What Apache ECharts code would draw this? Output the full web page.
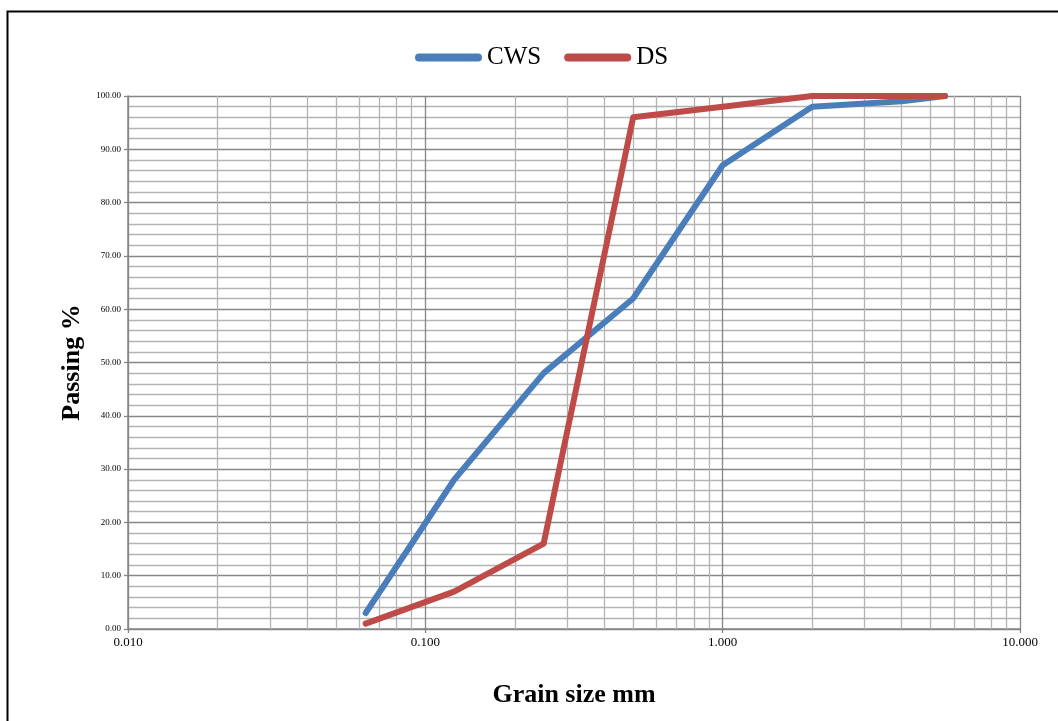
<!DOCTYPE html>
<html>
<head>
<meta charset="utf-8">
<script src="https://cdn.jsdelivr.net/npm/echarts@6/dist/echarts.min.js"></script>
<style>html,body{margin:0;padding:0;background:#fff;}#c{width:1058px;height:721px;}</style>
</head>
<body>
<div id="c"></div>
<script>
const sieveSizes = [0.063, 0.125, 0.25, 0.5, 1, 2, 4, 5.6];
const cwsPassing = [3, 28, 48, 62, 87, 98, 99, 100];
const dsPassing = [1, 7, 16, 96, 98, 100, 100, 100];
const seriesNames = ['CWS', 'DS'];
const xMinorGrid = [0.02,0.03,0.04,0.05,0.06,0.07,0.08,0.09,0.2,0.3,0.4,0.5,0.6,0.7,0.8,0.9,2,3,4,5,6,7,8,9];

const font = '"Liberation Serif", "Times New Roman", serif';
const chart = echarts.init(document.getElementById('c'));
const pairs = ys => sieveSizes.map((x, i) => [x, ys[i]]);
chart.setOption({
  animation: false,
  backgroundColor: '#fff',
  graphic: [{
    type: 'rect', left: 5, top: 9, z: 100,
    shape: {width: 1200, height: 900},
    style: {fill: 'none', stroke: '#000', lineWidth: 2}
  }],
  legend: {
    left: 410, top: 40,
    itemWidth: 67, itemHeight: 8, itemGap: 23,
    icon: 'path://M4 0H63A4 4 0 0 1 63 8H4A4 4 0 0 1 4 0Z',
    textStyle: {fontFamily: font, fontSize: 25, color: '#000'},
    data: seriesNames
  },
  grid: {left: 128, right: 38, top: 96, bottom: 92},
  xAxis: {
    type: 'log', logBase: 10, min: 0.01, max: 10,
    name: 'Grain size mm', nameLocation: 'middle', nameGap: 53,
    nameTextStyle: {fontFamily: font, fontSize: 26, fontWeight: 'bold', color: '#000'},
    axisLine: {show: true, lineStyle: {color: '#868686', width: 1.5}},
    axisTick: {show: true, length: 4, lineStyle: {color: '#868686', width: 1.3}},
    axisLabel: {fontFamily: font, fontSize: 13, color: '#000', margin: 7,
      formatter: v => Number(v).toFixed(3)},
    splitLine: {show: true, lineStyle: {color: '#868686', width: 1.3}}
  },
  yAxis: {
    type: 'value', min: 0, max: 100, interval: 10,
    name: 'Passing %', nameLocation: 'middle', nameGap: 42, nameRotate: 90,
    nameTextStyle: {fontFamily: font, fontSize: 26, fontWeight: 'bold', color: '#000'},
    axisLine: {show: true, lineStyle: {color: '#868686', width: 1.5}},
    axisTick: {show: true, length: 4, lineStyle: {color: '#868686', width: 1.3}},
    axisLabel: {fontFamily: font, fontSize: 9, color: '#000', margin: 7,
      formatter: v => Number(v).toFixed(2)},
    splitLine: {show: true, lineStyle: {color: '#868686', width: 1.3}},
    minorTick: {show: false, splitNumber: 5},
    minorSplitLine: {show: true, lineStyle: {color: '#b3b3b3', width: 1.3}}
  },
  series: [
    {
      name: 'grid-minor-x', type: 'line', data: [], z: 1, silent: true,
      markLine: {
        silent: true, symbol: 'none', animation: false, z: 1,
        label: {show: false},
        lineStyle: {color: '#b3b3b3', width: 1.3, type: 'solid'},
        emphasis: {disabled: true},
        data: xMinorGrid.map(v => ({xAxis: v}))
      }
    },
    {
      name: seriesNames[0], type: 'line', data: pairs(cwsPassing), z: 3,
      showSymbol: false, symbol: 'none', color: '#4a7ebb',
      lineStyle: {width: 6, color: '#4a7ebb', cap: 'round', join: 'round'}
    },
    {
      name: seriesNames[1], type: 'line', data: pairs(dsPassing), z: 3,
      showSymbol: false, symbol: 'none', color: '#be4b48',
      lineStyle: {width: 6, color: '#be4b48', cap: 'round', join: 'round'}
    }
  ]
});
</script>
</body>
</html>
